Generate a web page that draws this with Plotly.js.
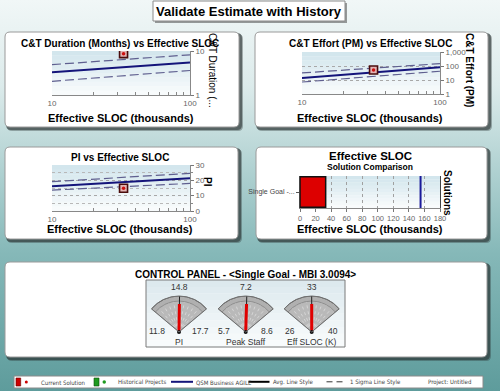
<!DOCTYPE html>
<html>
<head>
<meta charset="utf-8">
<script src="https://cdn.plot.ly/plotly-3.0.1.min.js"></script>
<style>
html,body{margin:0;padding:0;overflow:hidden;}
#chart{width:500px;height:391px;background:linear-gradient(to bottom,#f1f7f7 0%,#dcebeb 22%,#b3d3d3 42%,#85b8b8 65%,#5e9c9c 100%);}
</style>
</head>
<body>
<div id="chart"></div>
<script>
// ---------- DATA ----------
const sloc = [10, 100];                 // Effective SLOC (thousands) at trend ends
const durAvg = [3.3, 5.5];
const durHi = [4.9, 8.2];
const durLo = [2.05, 3.6];
const effAvg = [14, 80];
const effHi = [32, 147];
const effLo = [7.2, 42];
const piAvg = [16.2, 21.3];
const piHi = [19.1, 24.6];
const piLo = [13.6, 18.0];
const curSloc = [33];
const curDur = [8.7];
const curEff = [52];
const curPI = [14.8];
const solutions = ['Single Goal -...'];
const solSloc = [33];
const qsmRef = [155];
const gaugeNames = ['PI', 'Peak Staff', 'Eff SLOC (K)'];
const gaugeVals = [14.8, 7.2, 33];
const gaugeMin = [11.8, 5.7, 26];
const gaugeMax = [17.7, 8.6, 40];
const effTickVals = [1, 10, 100, 1000];
const effTickText = ['1', '10', '100', '1,000'];
const legendLabels = ['Current Solution', 'Historical Projects', 'QSM Business AGILE', 'Avg. Line Style', '1 Sigma Line Style', 'Project: Untitled'];

// ---------- helpers ----------
const W = 500, H = 391;
const px = x => x / W;
const py = y => 1 - y / H;
const FONT = 'Arial, "Liberation Sans", sans-serif';
const NARROW = '"Liberation Sans Narrow", "Arial Narrow", "DejaVu Sans Condensed", sans-serif';
const NAVY = '#14147a';
const SIGMA = '#5f5f8f';

const shapes = [];
const annotations = [];

function rect(x0, y0, x1, y1, fill, line, lw) {
  shapes.push({type: 'rect', xref: 'paper', yref: 'paper', layer: 'below',
    x0: px(x0), x1: px(x1), y0: py(y1), y1: py(y0),
    fillcolor: fill, line: {color: line || 'rgba(0,0,0,0)', width: lw || 0}});
}
function rrect(x0, y0, x1, y1, r, fill, line, lw) {
  const X = px, Y = py;
  const p = `M${X(x0 + r)},${Y(y0)} L${X(x1 - r)},${Y(y0)} Q${X(x1)},${Y(y0)} ${X(x1)},${Y(y0 + r)} ` +
    `L${X(x1)},${Y(y1 - r)} Q${X(x1)},${Y(y1)} ${X(x1 - r)},${Y(y1)} L${X(x0 + r)},${Y(y1)} ` +
    `Q${X(x0)},${Y(y1)} ${X(x0)},${Y(y1 - r)} L${X(x0)},${Y(y0 + r)} Q${X(x0)},${Y(y0)} ${X(x0 + r)},${Y(y0)} Z`;
  shapes.push({type: 'path', xref: 'paper', yref: 'paper', layer: 'below', path: p,
    fillcolor: fill, line: {color: line || 'rgba(0,0,0,0)', width: lw || 0}});
}
function panel(x0, y0, x1, y1) {
  rrect(x0 + 2, y0 + 2, x1 + 4, y1 + 4, 5, 'rgba(40,50,50,0.35)');
  rrect(x0 + 1, y0 + 1, x1 + 3, y1 + 3, 5, 'rgba(40,50,50,0.55)');
  rrect(x0, y0, x1, y1, 5, '#ffffff', '#9a9a9a', 1);
}
function mix(c1, c2, t) {
  const a = c1.match(/\w\w/g).map(h => parseInt(h, 16));
  const b = c2.match(/\w\w/g).map(h => parseInt(h, 16));
  return 'rgb(' + a.map((v, i) => Math.round(v + (b[i] - v) * t)).join(',') + ')';
}
function gradBox(x0, y0, x1, y1, c1, c2, n) {
  const h = (y1 - y0) / n;
  for (let i = 0; i < n; i++) rect(x0, y0 + i * h, x1, y0 + (i + 1) * h + 0.3, mix(c1, c2, i / (n - 1)));
}
function ann(text, x, y, size, bold, color, extra) {
  annotations.push(Object.assign({text: bold ? '<b>' + text + '</b>' : text, x: px(x), y: py(y),
    xref: 'paper', yref: 'paper', showarrow: false, xanchor: 'center', yanchor: 'middle',
    font: {family: FONT, size: size, color: color || '#000'}}, extra || {}));
}

// ---------- background frames ----------
rect(155, 3, 347, 23, 'rgba(60,60,60,0.5)');
rect(153, 1, 345, 21, '#ffffff', '#8a8a8a', 1);
ann('Validate Estimate with History', 249, 11.5, 13, true);

panel(5, 32, 239, 127);
panel(255, 32, 488, 127);
panel(5, 147, 238, 239);
panel(256, 147, 487, 239);
panel(5, 262, 487, 357);

gradBox(52, 51, 190, 95, 'd3e6ed', 'f8fbfc', 10);
gradBox(302, 52, 440, 94, 'd3e6ed', 'f8fbfc', 10);
gradBox(52, 165, 190, 211, 'd3e6ed', 'f8fbfc', 10);
gradBox(300, 176, 440, 208, 'd3e6ed', 'f8fbfc', 10);
gradBox(146, 280, 345, 347, 'dde9ee', 'f8fbfc', 10);
rect(146, 280, 345, 347, 'rgba(0,0,0,0)', '#7a7a7a', 1);

rect(14, 376, 483, 388, '#ffffff', '#8a8a8a', 1);

// ---------- titles ----------
ann('C&amp;T Duration (Months) vs Effective SLOC', 120, 43, 10, true);
ann('C&amp;T Effort (PM) vs Effective SLOC', 370.5, 43, 10, true);
ann('PI vs Effective SLOC', 120, 157, 10, true);
ann('Effective SLOC', 370, 156, 11.5, true);
ann('Solution Comparison', 370, 167, 8.5, true);
ann('CONTROL PANEL - &lt;Single Goal - MBI 3.0094&gt;', 245, 274, 10, true);
ann('Effective SLOC (thousands)', 120.5, 118, 11, true);
ann('Effective SLOC (thousands)', 370, 118, 11, true);
ann('Effective SLOC (thousands)', 120, 229, 11, true);
ann('Effective SLOC (thousands)', 370, 229, 11, true);
ann('C&amp;T Duration (...', 212, 70, 10, false, '#000', {textangle: 90});
ann('C&amp;T Effort (PM)', 469, 70, 10, true, '#000', {textangle: 90});
ann('PI', 208, 182, 10, true, '#000', {textangle: 90});
ann('Solutions', 447, 193, 10, true, '#000', {textangle: 90});

// ---------- traces ----------
const traces = [];
function trend(y, xa, ya, avg, hi, lo) {
  traces.push({type: 'scatter', mode: 'lines', x: sloc, y: lo, xaxis: xa, yaxis: ya,
    line: {color: SIGMA, width: 1.2, dash: '9px,4px'}, hoverinfo: 'skip'});
  traces.push({type: 'scatter', mode: 'lines', x: sloc, y: hi, xaxis: xa, yaxis: ya,
    line: {color: SIGMA, width: 1.2, dash: '9px,4px'}, hoverinfo: 'skip'});
  traces.push({type: 'scatter', mode: 'lines', x: sloc, y: avg, xaxis: xa, yaxis: ya,
    line: {color: NAVY, width: 2}, hoverinfo: 'skip'});
  traces.push({type: 'scatter', mode: 'markers', x: curSloc, y: y, xaxis: xa, yaxis: ya,
    marker: {symbol: 'square', size: 8, color: '#e2b3b3', line: {color: '#4a0c0c', width: 1.6}}, hoverinfo: 'skip'});
  traces.push({type: 'scatter', mode: 'markers', x: curSloc, y: y, xaxis: xa, yaxis: ya,
    marker: {symbol: 'circle', size: 3.5, color: '#cc1010'}, hoverinfo: 'skip'});
}
trend(curDur, 'x', 'y', durAvg, durHi, durLo);
trend(curEff, 'x2', 'y2', effAvg, effHi, effLo);
trend(curPI, 'x3', 'y3', piAvg, piHi, piLo);

traces.push({type: 'bar', orientation: 'h', x: solSloc, y: [0], width: 0.95, xaxis: 'x4', yaxis: 'y4',
  marker: {color: '#dd0000', line: {color: '#111', width: 1.5}}, hoverinfo: 'skip'});
traces.push({type: 'scatter', mode: 'lines', x: [qsmRef[0], qsmRef[0]], y: [-0.5, 0.5], xaxis: 'x4', yaxis: 'y4',
  line: {color: '#1a1a9a', width: 2}, hoverinfo: 'skip'});

// gauges
const gaugeCx = [179, 245.7, 311.7];
const gCy = 332, gR = 36;
const polars = {};
gaugeNames.forEach((name, i) => {
  const key = i === 0 ? 'polar' : 'polar' + (i + 1);
  const half = gR * Math.cos(40 * Math.PI / 180);
  polars[key] = {
    domain: {x: [px(gaugeCx[i] - half), px(gaugeCx[i] + half)], y: [py(gCy), py(gCy - gR)]},
    sector: [40, 140], bgcolor: '#b9b9b9', hole: 0,
    radialaxis: {range: [0, 1], visible: false},
    angularaxis: {thetaunit: 'degrees', showticklabels: false, ticks: '', showline: true, linecolor: '#707070', linewidth: 1,
      showgrid: true, gridcolor: '#dcdcdc', griddash: 'dot', gridwidth: 0.8, tickvals: [50, 60, 70, 80, 100, 110, 120, 130]}
  };
  const theta = 140 - (gaugeVals[i] - gaugeMin[i]) / (gaugeMax[i] - gaugeMin[i]) * 100;
  traces.push({type: 'barpolar', subplot: key, r: [0.14], base: [0.86], theta: [90], width: [100],
    marker: {color: '#b0b0b0', line: {color: '#808080', width: 0.7}}, hoverinfo: 'skip'});
  traces.push({type: 'barpolar', subplot: key, r: [1], theta: [90], width: [100],
    marker: {color: 'rgba(0,0,0,0)', line: {color: '#707070', width: 1}}, hoverinfo: 'skip'});
  traces.push({type: 'scatterpolar', subplot: key, mode: 'lines', r: [0, 1], theta: [theta, theta],
    line: {color: '#222', width: 1}, hoverinfo: 'skip'});
  traces.push({type: 'scatterpolar', subplot: key, mode: 'lines', r: [0, 0.78], theta: [theta, theta],
    line: {color: '#e00000', width: 3}, hoverinfo: 'skip'});
  traces.push({type: 'scatterpolar', subplot: key, mode: 'markers', r: [0], theta: [theta],
    marker: {color: '#111', size: 4}, hoverinfo: 'skip'});
  ann(String(gaugeVals[i]), gaugeCx[i], 287, 8.5, false, '#333');
  ann(String(gaugeMin[i]), gaugeCx[i] - 22, 331, 8.5, false, '#333');
  ann(String(gaugeMax[i]), gaugeCx[i] + 21, 331, 8.5, false, '#333');
  ann(name, gaugeCx[i], 341.5, 8.5, false, '#333');
});

// ---------- custom legend strip ----------
rect(16, 378, 20.7, 386, '#cc0000', '#660000', 0.6);
shapes.push({type: 'circle', xref: 'paper', yref: 'paper', layer: 'below', x0: px(24.8), x1: px(27.8), y0: py(383.5), y1: py(380.5), fillcolor: '#cc0000', line: {width: 0}});
rect(94, 378, 99, 386, '#1f9a1f', '#0d4d0d', 0.6);
shapes.push({type: 'circle', xref: 'paper', yref: 'paper', layer: 'below', x0: px(102.5), x1: px(106), y0: py(383.7), y1: py(380.2), fillcolor: '#1f9a1f', line: {width: 0}});
shapes.push({type: 'line', xref: 'paper', yref: 'paper', layer: 'below', x0: px(171), x1: px(193), y0: py(381.8), y1: py(381.8), line: {color: NAVY, width: 2}});
shapes.push({type: 'line', xref: 'paper', yref: 'paper', layer: 'below', x0: px(248.5), x1: px(269.5), y0: py(381.8), y1: py(381.8), line: {color: '#000', width: 2}});
shapes.push({type: 'line', xref: 'paper', yref: 'paper', layer: 'below', x0: px(326.5), x1: px(343), y0: py(381.8), y1: py(381.8), line: {color: '#333', width: 1, dash: '6px,4px'}});
const legX = [39.3, 116.3, 194, 271.3, 348.3, 426];
legendLabels.forEach((t, i) => annotations.push({text: t, x: px(legX[i]), y: py(382), xref: 'paper', yref: 'paper',
  showarrow: false, xanchor: 'left', yanchor: 'middle', font: {family: NARROW, size: 6, color: '#444'}}));

// ---------- axes ----------
const tickFont = {family: FONT, size: 8, color: '#666'};
function logX(domain, anchor) {
  return {type: 'log', range: [1, 2], domain: domain, anchor: anchor, tickvals: [10, 100], ticks: 'inside', ticklen: 3,
    tickcolor: '#777', showline: true, linecolor: '#888', linewidth: 1, showgrid: false, zeroline: false, tickfont: tickFont,
    tickangle: 0,
    minor: {tickvals: [20, 30, 40, 50, 60, 70, 80, 90], ticks: 'inside', ticklen: 3, tickcolor: '#888', showgrid: false},
    fixedrange: true};
}
const layout = {
  width: W, height: H, margin: {l: 0, r: 0, t: 0, b: 0},
  paper_bgcolor: 'rgba(0,0,0,0)', plot_bgcolor: 'rgba(0,0,0,0)',
  showlegend: false, font: {family: FONT}, bargap: 0,
  xaxis: logX([px(52), px(190)], 'y'),
  yaxis: {type: 'log', range: [0, 1], domain: [py(95), py(51)], anchor: 'x', side: 'right', tickvals: [1, 10],
    ticks: 'outside', ticklen: 3, tickcolor: '#777', showline: true, linecolor: '#888', showgrid: false, zeroline: false,
    tickfont: tickFont, fixedrange: true},
  xaxis2: logX([px(302), px(440)], 'y2'),
  yaxis2: {type: 'log', range: [0, 3], domain: [py(94), py(52)], anchor: 'x2', side: 'right', tickvals: effTickVals,
    ticktext: effTickText, ticks: 'outside', ticklen: 3, tickcolor: '#777', showline: true, linecolor: '#888',
    showgrid: true, gridcolor: '#a8a8a8', griddash: 'dot', gridwidth: 1, zeroline: false, tickfont: tickFont, fixedrange: true},
  xaxis3: logX([px(52), px(190)], 'y3'),
  yaxis3: {range: [0, 30], domain: [py(211), py(165)], anchor: 'x3', side: 'right', tickvals: [0, 10, 20, 30],
    ticks: 'outside', ticklen: 3, tickcolor: '#777', showline: true, linecolor: '#888', showgrid: true,
    gridcolor: '#a8a8a8', griddash: 'dot', zeroline: false, tickfont: tickFont, fixedrange: true,
    minor: {tickvals: [5, 15, 25], ticks: 'outside', ticklen: 2, tickcolor: '#888', showgrid: true, gridcolor: '#b8b8b8', griddash: 'dot'}},
  xaxis4: {range: [0, 180], domain: [px(300), px(440)], anchor: 'y4', dtick: 20, ticks: 'outside', ticklen: 3,
    tickcolor: '#777', showline: true, linecolor: '#888', showgrid: true, gridcolor: '#a0a0a0', griddash: 'dot',
    zeroline: false, tickfont: {family: FONT, size: 7.5, color: '#666'}, tickangle: 0, fixedrange: true, mirror: false},
  yaxis4: {range: [-0.5, 0.5], domain: [py(208), py(176)], anchor: 'x4', tickvals: [0], ticktext: solutions,
    ticks: 'outside', ticklen: 3, tickcolor: '#555', showline: true, linecolor: '#444', mirror: true, showgrid: false,
    zeroline: false, tickfont: {family: FONT, size: 7, color: '#444'}, fixedrange: true},
  shapes: shapes,
  annotations: annotations
};
Object.assign(layout, polars);

Plotly.newPlot('chart', traces, layout, {displayModeBar: false, staticPlot: true});
</script>
</body>
</html>
